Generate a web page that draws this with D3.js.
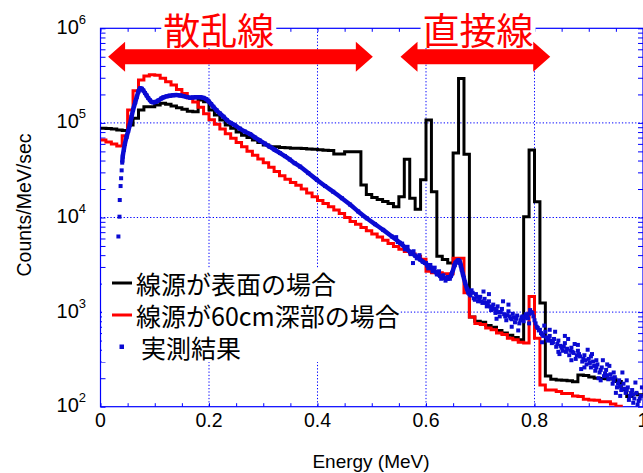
<!DOCTYPE html>
<html>
<head>
<meta charset="utf-8">
<script src="https://cdn.jsdelivr.net/npm/d3@7"></script>
<style>
  body { margin: 0; background: #fff; }
  svg { display: block; }
</style>
</head>
<body>
<div id="chart"></div>
<script>
// spectra are histograms with 0.01 MeV bins starting at 0 MeV
const binWidth = 0.01;

// source on the surface (black)
const surfaceCounts = [
  88000, 87000, 86000, 84000, 83000, 95000, 112000, 137000, 148000, 148000,
  155000, 161000, 157000, 151000, 145000, 139000, 133000, 131000, 175000, 167000,
  137000, 121000, 107000, 95000, 88000, 80000, 74000, 70000, 66000, 62000,
  58500, 56000, 56000, 55000, 54500, 54000, 54000, 53500, 53000, 52500,
  52000, 51500, 51000, 47000, 47000, 49600, 49600, 49600, 22000, 17500,
  16300, 15500, 14800, 14100, 13000, 16600, 41200, 16000, 12200, 25000,
  107000, 18700, 3900, 3600, 3300, 48000, 295000, 46500, 890, 800,
  780, 720, 690, 640, 600, 570, 540, 510, 10200, 51700,
  14700, 1250, 211, 195, 191, 190, 188, 184, 216, 214,
  206, 200, 199, 198, 196, 185, 151, 128, 136, 134
];

// source at 60 cm depth (red)
const depthCounts = [
  66000, 63000, 60000, 57000, 73000, 137000, 219000, 284000, 313000, 323000,
  318000, 296000, 273000, 251000, 226000, 205000, 185000, 166000, 146000, 125000,
  108000, 97000, 86000, 77000, 69000, 62000, 55800, 50100, 45600, 41500,
  37800, 34000, 30600, 27600, 25400, 23400, 21900, 20000, 18200, 16600,
  15100, 14100, 13000, 12000, 11000, 10000, 9100, 8500, 7850, 7250,
  6700, 6240, 5750, 5300, 4950, 4620, 4370, 4120, 3890, 3630,
  2700, 2600, 2600, 2550, 2550, 3700, 3700, 1600, 890, 760,
  740, 680, 650, 600, 580, 530, 510, 480, 470, 1460,
  530, 170, 150, 150, 145, 138, 138, 130, 128, 120,
  118, 117, 113, 113, 107, 101, 96, 90, 85, 80
];

// measured spectrum, dense part (energy MeV, counts/MeV/sec)
const measuredBand = [
  [0.040, 38000], [0.041, 44000], [0.043, 52000], [0.045, 60000], [0.048, 71000],
  [0.051, 82000], [0.054, 95000], [0.057, 115000], [0.060, 137000], [0.064, 165000],
  [0.067, 189000], [0.070, 215000], [0.073, 232000], [0.076, 230000], [0.079, 220000],
  [0.082, 207000], [0.085, 195000], [0.088, 183000], [0.091, 174000], [0.094, 167000],
  [0.097, 165000], [0.102, 167000], [0.107, 173000], [0.112, 181000], [0.116, 186000],
  [0.122, 191000], [0.128, 194000], [0.134, 196000], [0.140, 197000], [0.147, 195000],
  [0.153, 192000], [0.159, 188000], [0.165, 185000], [0.171, 186000], [0.177, 187000],
  [0.184, 187000], [0.190, 184000], [0.195, 178000], [0.199, 170000], [0.204, 158000],
  [0.208, 148000], [0.214, 136000], [0.220, 126000], [0.227, 116000], [0.233, 107000],
  [0.240, 100000], [0.247, 95000], [0.257, 87000], [0.266, 81000], [0.276, 76000],
  [0.285, 70000], [0.294, 65000], [0.303, 60500], [0.312, 56000], [0.321, 52000],
  [0.331, 48000], [0.340, 44500], [0.349, 41000], [0.358, 37500], [0.368, 34500],
  [0.383, 29500], [0.399, 25000], [0.414, 21500], [0.429, 18700], [0.445, 16000],
  [0.460, 13700], [0.475, 11600], [0.491, 9800], [0.506, 8500], [0.521, 7400],
  [0.537, 6300], [0.552, 5400], [0.562, 4800], [0.571, 4300], [0.580, 3950],
  [0.589, 3600], [0.598, 3300], [0.608, 3000], [0.620, 2570], [0.632, 2300],
  [0.640, 2250], [0.647, 2500], [0.653, 3150], [0.658, 3500], [0.662, 3450],
  [0.666, 2800], [0.672, 2050], [0.678, 1600]
];

// measured spectrum, scattered points
const measuredDots = [
  [0.033, 6300], [0.035, 10200], [0.0355, 15300], [0.037, 21500], [0.038, 26000], [0.039, 31500],
  [0.545, 6200], [0.548, 5500], [0.556, 5300], [0.561, 4600], [0.566, 4900], [0.572, 4100],
  [0.576, 3300], [0.577, 4400], [0.583, 3700], [0.588, 4000], [0.594, 3400],
  [0.600, 3300], [0.604, 2900], [0.608, 3150], [0.612, 2700], [0.616, 2950], [0.620, 2500],
  [0.624, 2700], [0.628, 2250], [0.632, 2450], [0.636, 2150], [0.640, 2350], [0.644, 2250],
  [0.648, 2600], [0.652, 3100], [0.656, 3400], [0.660, 3550], [0.664, 3100], [0.668, 2500],
  [0.672, 2050], [0.676, 1750], [0.680, 1550], [0.684, 1700], [0.688, 1400], [0.692, 1550],
  [0.696, 1300], [0.700, 1450], [0.704, 1250], [0.708, 1380], [0.712, 1150], [0.716, 1300],
  [0.720, 1050], [0.724, 1200], [0.728, 980], [0.732, 1150], [0.736, 900], [0.740, 1080],
  [0.744, 950], [0.748, 820], [0.752, 1020], [0.756, 860], [0.760, 960], [0.764, 780],
  [0.768, 920], [0.772, 760], [0.776, 880], [0.780, 800], [0.784, 950], [0.788, 860],
  [0.792, 1050], [0.796, 980], [0.800, 820], [0.804, 700], [0.808, 640], [0.812, 600],
  [0.816, 560], [0.820, 620], [0.824, 500], [0.828, 560], [0.832, 470], [0.836, 520],
  [0.840, 430], [0.844, 500], [0.848, 440], [0.852, 390], [0.856, 470], [0.860, 410],
  [0.864, 350], [0.868, 420], [0.872, 370], [0.876, 320], [0.880, 390], [0.884, 340],
  [0.888, 300], [0.892, 350], [0.896, 280], [0.900, 320], [0.904, 260], [0.908, 300],
  [0.912, 240], [0.916, 280], [0.920, 230], [0.924, 260], [0.928, 210], [0.932, 245],
  [0.936, 195], [0.940, 220], [0.944, 175], [0.948, 205], [0.952, 160], [0.956, 190],
  [0.960, 150], [0.964, 175], [0.968, 140], [0.972, 160], [0.976, 130], [0.980, 150],
  [0.984, 122], [0.988, 140], [0.992, 115], [0.996, 130],
  [0.602, 3100], [0.614, 2850], [0.626, 2400], [0.638, 2300], [0.646, 2400], [0.654, 3300],
  [0.662, 3300], [0.670, 2300], [0.678, 1650], [0.682, 1500], [0.686, 1600], [0.690, 1350],
  [0.694, 1450], [0.698, 1380], [0.702, 1300], [0.710, 1250], [0.714, 1200], [0.718, 1150],
  [0.722, 1130], [0.726, 1080], [0.730, 1050], [0.734, 1000], [0.738, 1000], [0.746, 900],
  [0.750, 930], [0.754, 900], [0.758, 840], [0.762, 880], [0.766, 850], [0.774, 820],
  [0.778, 900], [0.782, 870], [0.786, 900], [0.790, 960], [0.794, 1000], [0.798, 900],
  [0.802, 760], [0.806, 680], [0.810, 650], [0.814, 580], [0.822, 540], [0.826, 530],
  [0.830, 500], [0.834, 480], [0.842, 460], [0.850, 420], [0.854, 430], [0.858, 380],
  [0.866, 390], [0.870, 380], [0.878, 350], [0.882, 360], [0.890, 320], [0.894, 310],
  [0.902, 290], [0.910, 270], [0.914, 260], [0.922, 245], [0.930, 225], [0.934, 215],
  [0.942, 200], [0.946, 190], [0.954, 175], [0.958, 165], [0.966, 155], [0.970, 150],
  [0.978, 140], [0.982, 135], [0.994, 122],
  [0.706, 1650], [0.742, 1300], [0.770, 640], [0.818, 720], [0.838, 620], [0.846, 360],
  [0.862, 520], [0.874, 460], [0.886, 250], [0.898, 400], [0.906, 360], [0.918, 200],
  [0.926, 310], [0.938, 270], [0.950, 140], [0.962, 230], [0.974, 118], [0.986, 180],
  [0.990, 105], [0.998, 160],
  [0.716, 1550], [0.730, 850], [0.752, 1200], [0.758, 700], [0.790, 760], [0.814, 480],
  [0.828, 650], [0.844, 380], [0.856, 560], [0.868, 310], [0.880, 450], [0.892, 260],
  [0.904, 340], [0.914, 310], [0.922, 190], [0.934, 280], [0.946, 230], [0.958, 130],
  [0.970, 190], [0.982, 110]
];

const xTicks = [0, 0.2, 0.4, 0.6, 0.8, 1];
const yTicks = [1e2, 1e3, 1e4, 1e5, 1e6];
const legendLabels = ["線源が表面の場合", "線源が60cm深部の場合", "実測結果"];
const regionLabels = [
  {text: "散乱線", from: 0.014, to: 0.502, at: 0.218},
  {text: "直接線", from: 0.553, to: 0.829, at: 0.696}
];

const W = 643, H = 473;
const axisBlue = "#0000ff", dataBlue = "#0a0ad2", red = "#ff0000";

const x = d3.scaleLinear().domain([0, 1]).range([100.5, 643]);
const y = d3.scaleLog().domain([1e2, 1e6]).range([406.7, 28.3]);

const svg = d3.select("#chart").append("svg")
  .attr("width", W)
  .attr("height", H)
  .style("font-family", "'Liberation Sans', Arial, sans-serif");

svg.append("defs").append("clipPath").attr("id", "plot")
  .append("rect")
  .attr("x", x(0)).attr("y", y(1e6))
  .attr("width", x(1) - x(0)).attr("height", y(1e2) - y(1e6));

// dotted grid
const grid = svg.append("g")
  .attr("stroke", axisBlue)
  .attr("stroke-width", 1)
  .attr("stroke-dasharray", "1.3,2");
grid.selectAll(".gx").data(xTicks.slice(1, -1)).enter().append("line")
  .attr("x1", d => x(d)).attr("x2", d => x(d))
  .attr("y1", y(1e6)).attr("y2", y(1e2));
grid.selectAll(".gy").data(yTicks.slice(1, -1)).enter().append("line")
  .attr("x1", x(0)).attr("x2", x(1))
  .attr("y1", d => y(d)).attr("y2", d => y(d));

// inward ticks
const minorX = d3.range(0, 1.0001, 0.05);
const minorY = y.ticks();

svg.append("g").attr("transform", "translate(0," + y(1e2) + ")")
  .call(d3.axisBottom(x).tickValues(minorX).tickSize(-3.5).tickFormat(""));
svg.append("g").attr("transform", "translate(0," + y(1e6) + ")")
  .call(d3.axisTop(x).tickValues(minorX).tickSize(-3.5).tickFormat(""));
svg.append("g").attr("transform", "translate(" + x(0) + ",0)")
  .call(d3.axisLeft(y).tickValues(minorY).tickSize(-5).tickFormat(""));
svg.append("g").attr("transform", "translate(" + x(1) + ",0)")
  .call(d3.axisRight(y).tickValues(minorY).tickSize(-5).tickFormat(""));
svg.selectAll(".tick line").attr("stroke", axisBlue);
svg.selectAll(".domain").remove();

// frame
svg.append("rect")
  .attr("x", x(0)).attr("y", y(1e6))
  .attr("width", x(1) - x(0)).attr("height", y(1e2) - y(1e6))
  .attr("fill", "none").attr("stroke", axisBlue).attr("stroke-width", 1.2);

// tick labels
svg.selectAll(".xl").data(xTicks).enter().append("text")
  .attr("x", d => x(d))
  .attr("y", y(1e2) + 20.5)
  .attr("text-anchor", "middle")
  .attr("font-size", 19.5)
  .text(d => d3.format("~g")(d));

yTicks.forEach(function(v) {
  const t = svg.append("text")
    .attr("x", 86)
    .attr("y", y(v) + 5.5)
    .attr("text-anchor", "end")
    .attr("font-size", 20);
  t.append("tspan").text("10");
  t.append("tspan").attr("font-size", 13).attr("dy", -10).text(Math.round(Math.log10(v)));
});

svg.append("text")
  .attr("x", 371).attr("y", 468)
  .attr("text-anchor", "middle")
  .attr("font-size", 19)
  .text("Energy (MeV)");

svg.append("text")
  .attr("transform", "translate(31,205) rotate(-90)")
  .attr("text-anchor", "middle")
  .attr("font-size", 19.5)
  .text("Counts/MeV/sec");

// spectra
const plot = svg.append("g").attr("clip-path", "url(#plot)");

function steps(values) {
  const pts = values.map((v, i) => [i * binWidth, v]);
  pts.push([values.length * binWidth, values[values.length - 1]]);
  return pts;
}

const stepLine = d3.line()
  .x(d => x(d[0]))
  .y(d => y(d[1]))
  .curve(d3.curveStepAfter);

plot.append("path")
  .datum(steps(surfaceCounts))
  .attr("d", stepLine)
  .attr("fill", "none")
  .attr("stroke", "#000")
  .attr("stroke-width", 3);

plot.append("path")
  .datum(steps(depthCounts))
  .attr("d", stepLine)
  .attr("fill", "none")
  .attr("stroke", red)
  .attr("stroke-width", 3);

plot.append("path")
  .datum(measuredBand)
  .attr("d", d3.line().x(d => x(d[0])).y(d => y(d[1])).curve(d3.curveMonotoneX))
  .attr("fill", "none")
  .attr("stroke", dataBlue)
  .attr("stroke-width", 4.5);

plot.selectAll(".dot").data(measuredBand.concat(measuredDots)).enter().append("rect")
  .attr("x", d => x(d[0]) - 2)
  .attr("y", d => y(d[1]) - 2)
  .attr("width", 4)
  .attr("height", 4)
  .attr("fill", dataBlue);

// legend
const legend = svg.append("g")
  .style("font-family", "'Noto Sans CJK JP', sans-serif")
  .attr("font-size", 25);
legend.append("rect")
  .attr("x", 102).attr("y", 268)
  .attr("width", 298).attr("height", 94)
  .attr("fill", "#fff");
const rowY = [283, 315, 347];
legend.append("line")
  .attr("x1", 112).attr("x2", 132).attr("y1", rowY[0]).attr("y2", rowY[0])
  .attr("stroke", "#000").attr("stroke-width", 3);
legend.append("line")
  .attr("x1", 112).attr("x2", 132).attr("y1", rowY[1]).attr("y2", rowY[1])
  .attr("stroke", red).attr("stroke-width", 3);
legend.append("rect")
  .attr("x", 119.5).attr("y", rowY[2] - 2.5)
  .attr("width", 4.5).attr("height", 4.5)
  .attr("fill", dataBlue);
legend.selectAll(".lt").data(legendLabels).enter().append("text")
  .attr("x", (d, i) => i < 2 ? 136 : 141)
  .attr("y", (d, i) => rowY[i])
  .attr("dominant-baseline", "central")
  .attr("fill", "#000")
  .text(d => d);

// region annotations: red double arrows with labels on white boxes
const arrowY = y(5e5);
regionLabels.forEach(function(r) {
  const x0 = x(r.from), x1 = x(r.to);
  const head = 17, hh = 15, sh = 7.5;
  const pts = [
    [x0, arrowY], [x0 + head, arrowY - hh], [x0 + head, arrowY - sh],
    [x1 - head, arrowY - sh], [x1 - head, arrowY - hh], [x1, arrowY],
    [x1 - head, arrowY + hh], [x1 - head, arrowY + sh],
    [x0 + head, arrowY + sh], [x0 + head, arrowY + hh]
  ];
  const g = svg.append("g");
  const label = g.append("text")
    .attr("x", x(r.at))
    .attr("y", 29)
    .attr("text-anchor", "middle")
    .attr("dominant-baseline", "central")
    .style("font-family", "'Noto Sans CJK JP', sans-serif")
    .attr("font-size", 37)
    .attr("fill", red)
    .text(r.text);
  const bb = label.node().getBBox();
  g.insert("rect", ":first-child")
    .attr("x", bb.x - 2).attr("y", 9)
    .attr("width", bb.width + 4).attr("height", 38)
    .attr("fill", "#fff");
  g.append("polygon")
    .attr("points", pts.map(p => p.join(",")).join(" "))
    .attr("fill", red);
});
</script>
</body>
</html>
